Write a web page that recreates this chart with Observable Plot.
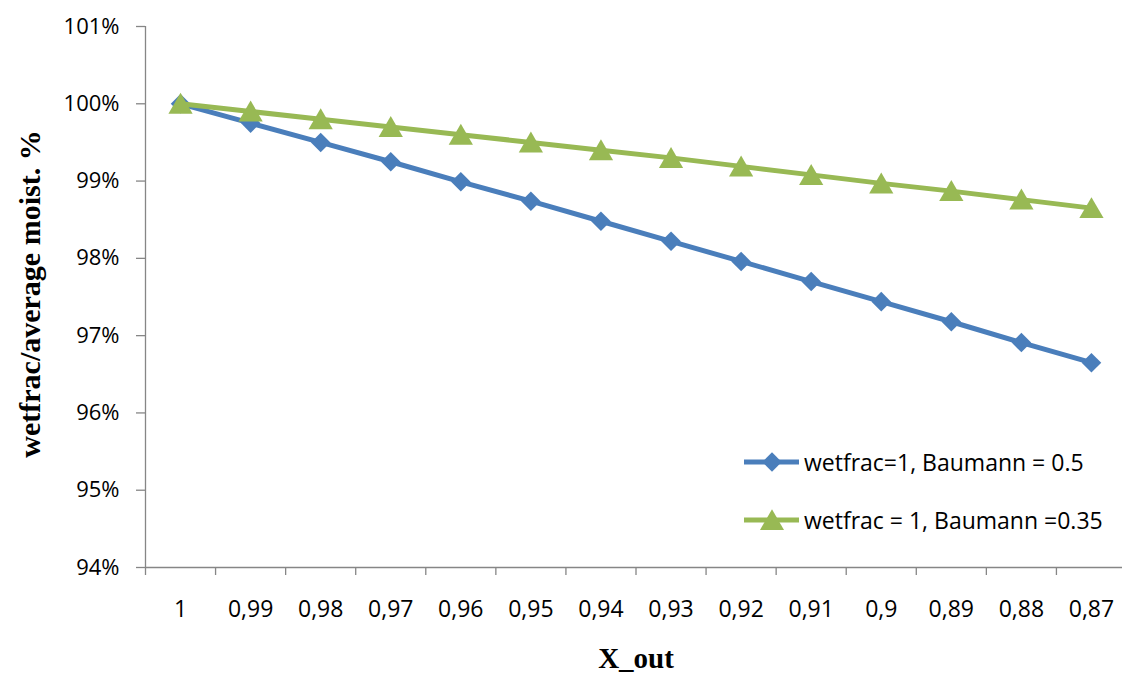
<!DOCTYPE html>
<html>
<head>
<meta charset="utf-8">
<script src="https://cdn.jsdelivr.net/npm/d3@7"></script>
<script src="https://cdn.jsdelivr.net/npm/@observablehq/plot@0.6"></script>
<style>
  html, body { margin: 0; padding: 0; background: #fff; }
  #chart { position: relative; width: 1122px; height: 673px; overflow: hidden; }
  #legend { position: absolute; left: 742px; top: 446px; font-family: "Open Sans", sans-serif; font-size: 23px; color: #000; }
  #legend .row { display: flex; align-items: center; height: 32px; margin-bottom: 26px; }
  #legend svg { display: block; margin-right: 3px; }
</style>
</head>
<body>
<div id="chart"></div>
<script>
// Outlet moisture values along the x axis (categories read left to right)
const xLabels = ["1", "0,99", "0,98", "0,97", "0,96", "0,95", "0,94", "0,93", "0,92", "0,91", "0,9", "0,89", "0,88", "0,87"];
// wetfrac / average moisture, in percent
const baumann05 = [100, 99.75, 99.5, 99.25, 98.99, 98.74, 98.48, 98.22, 97.96, 97.70, 97.44, 97.18, 96.91, 96.65];
const baumann035 = [100, 99.9, 99.8, 99.7, 99.6, 99.5, 99.4, 99.3, 99.19, 99.08, 98.97, 98.87, 98.76, 98.65];
const yTicks = [94, 95, 96, 97, 98, 99, 100, 101];

const seriesNames = ["wetfrac=1, Baumann = 0.5", "wetfrac = 1, Baumann =0.35"];
const blue = "#4a7ebb";
const green = "#98b954";
const axisGray = "#868686";

const rows = xLabels.map((label, i) => ({i, label, a: baumann05[i], b: baumann035[i]}));

const plot = Plot.plot({
  width: 1122,
  height: 673,
  marginLeft: 145,
  marginRight: -4,
  marginTop: 26,
  marginBottom: 106,
  style: {background: "#fff", fontFamily: "Open Sans, sans-serif", fontSize: "22px", color: "#000"},
  x: {type: "linear", domain: [-0.5, xLabels.length - 0.5]},
  y: {domain: [94, 101]},
  marks: [
    // axis lines
    Plot.ruleX([-0.5], {stroke: axisGray, strokeWidth: 1.3}),
    Plot.ruleY([94], {stroke: axisGray, strokeWidth: 1.3}),
    Plot.axisY({ticks: yTicks, tickSize: 9, tickPadding: 17, tickFormat: d => d + "%",
      stroke: axisGray, strokeWidth: 1.3, fill: "#000", label: null,
      fontFamily: "Open Sans, sans-serif", fontSize: 22}),
    // category boundary ticks
    Plot.axisX({ticks: d3.range(-0.5, xLabels.length, 1), tickSize: 8, tickFormat: () => "",
      stroke: axisGray, strokeWidth: 1.3, label: null}),
    // category labels at band centers
    Plot.axisX({ticks: d3.range(xLabels.length), tickSize: 0, tickPadding: 33,
      tickFormat: i => xLabels[i], fill: "#000", label: null,
      fontFamily: "Open Sans, sans-serif", fontSize: 23}),
    // series
    Plot.line(rows, {x: "i", y: "a", stroke: blue, strokeWidth: 5}),
    Plot.dot(rows, {x: "i", y: "a", symbol: "diamond2", r: 8.8, fill: blue, stroke: "none"}),
    Plot.line(rows, {x: "i", y: "b", stroke: green, strokeWidth: 5}),
    Plot.dot(rows, {x: "i", y: "b", symbol: "triangle", r: 9, dy: 3, fill: green, stroke: "none"}),
    // axis titles
    Plot.text(["X_out"], {frameAnchor: "bottom", lineAnchor: "bottom", dy: 100,
      fontFamily: "Liberation Serif, serif", fontWeight: "bold", fontSize: 29, fill: "#000"}),
    Plot.text(["wetfrac/average moist. %"], {frameAnchor: "left", textAnchor: "middle", rotate: -90,
      dx: -115, dy: -3,
      fontFamily: "Liberation Serif, serif", fontWeight: "bold", fontSize: 30, fill: "#000"})
  ]
});

const chart = document.getElementById("chart");
chart.appendChild(plot);

// legend
const legend = document.createElement("div");
legend.id = "legend";
const symbols = [d3.symbolDiamond2, d3.symbolTriangle];
const colors = [blue, green];
const sizes = [240, 250];
const offsets = [0, 3];
seriesNames.forEach((name, k) => {
  const row = document.createElement("div");
  row.className = "row";
  const svg = d3.create("svg").attr("width", 59).attr("height", 32);
  svg.append("line").attr("x1", 2).attr("x2", 57).attr("y1", 16).attr("y2", 16)
    .attr("stroke", colors[k]).attr("stroke-width", 5);
  svg.append("path").attr("transform", `translate(30,${16 + offsets[k]})`)
    .attr("d", d3.symbol(symbols[k], sizes[k])()).attr("fill", colors[k]);
  row.appendChild(svg.node());
  const span = document.createElement("span");
  span.textContent = name;
  row.appendChild(span);
  legend.appendChild(row);
});
chart.appendChild(legend);
</script>
</body>
</html>
